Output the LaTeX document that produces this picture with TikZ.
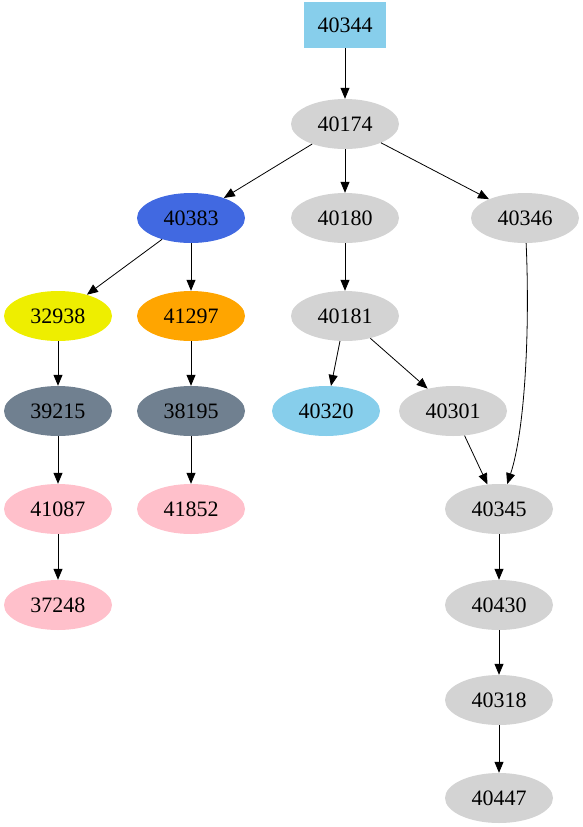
\documentclass[tikz,border=0pt]{standalone}
\usepackage{fontspec}
\setmainfont{Liberation Serif}
\usetikzlibrary{arrows.meta,shapes.geometric}
\definecolor{gvsky}{HTML}{87CEEB}
\definecolor{gvgray}{HTML}{D3D3D3}
\definecolor{gvroyal}{HTML}{4169E1}
\definecolor{gvyellow}{HTML}{EEEE00}
\definecolor{gvorange}{HTML}{FFA500}
\definecolor{gvslate}{HTML}{708090}
\definecolor{gvpink}{HTML}{FFC0CB}
\tikzset{
  gnode/.style={ellipse, minimum width=108pt, minimum height=50pt, inner sep=0pt, fill=gvgray},
  gbox/.style={rectangle, minimum width=82pt, minimum height=46pt, inner sep=0pt, fill=gvsky},
  gedge/.style={-{Triangle[length=11pt,width=9pt]}, black, line width=0.8pt}
}
\begin{document}
\begin{tikzpicture}[x=1pt, y=-1pt, every node/.style={font=\fontsize{22}{24}\selectfont}]
\useasboundingbox (0,0) rectangle (582,827);
% top of the tree
\node[gbox] (n40344) at (345,25) {40344};
\node[gnode] (n40174) at (345,124) {40174};

% second row
\node[gnode, fill=gvroyal] (n40383) at (191,218) {40383};
\node[gnode] (n40180) at (345,218) {40180};
\node[gnode] (n40346) at (525,218) {40346};

% third row
\node[gnode, fill=gvyellow] (n32938) at (58,316) {32938};
\node[gnode, fill=gvorange] (n41297) at (191,316) {41297};
\node[gnode] (n40181) at (345,316) {40181};

% fourth row
\node[gnode, fill=gvslate] (n39215) at (58,411) {39215};
\node[gnode, fill=gvslate] (n38195) at (191,411) {38195};
\node[gnode, fill=gvsky] (n40320) at (326,411) {40320};
\node[gnode] (n40301) at (453,411) {40301};

% lower rows
\node[gnode, fill=gvpink] (n41087) at (58,509) {41087};
\node[gnode, fill=gvpink] (n41852) at (191,509) {41852};
\node[gnode] (n40345) at (499,509) {40345};
\node[gnode, fill=gvpink] (n37248) at (58,605) {37248};
\node[gnode] (n40430) at (499,605) {40430};
\node[gnode] (n40318) at (499,700) {40318};
\node[gnode] (n40447) at (499,798) {40447};

% edges
\draw[gedge] (n40344) -- (n40174);
\draw[gedge] (n40174) -- (n40383);
\draw[gedge] (n40174) -- (n40180);
\draw[gedge] (n40174) -- (n40346);
\draw[gedge] (n40383) -- (n32938);
\draw[gedge] (n40383) -- (n41297);
\draw[gedge] (n32938) -- (n39215);
\draw[gedge] (n41297) -- (n38195);
\draw[gedge] (n39215) -- (n41087);
\draw[gedge] (n41087) -- (n37248);
\draw[gedge] (n38195) -- (n41852);
\draw[gedge] (n40180) -- (n40181);
\draw[gedge] (n40181) -- (n40320);
\draw[gedge] (n40181) -- (n40301);
\draw[gedge] (n40301) -- (n40345);
\draw[gedge] (n40346) .. controls (530,330) and (525,430) .. (n40345);
\draw[gedge] (n40345) -- (n40430);
\draw[gedge] (n40430) -- (n40318);
\draw[gedge] (n40318) -- (n40447);
\end{tikzpicture}
\end{document}
